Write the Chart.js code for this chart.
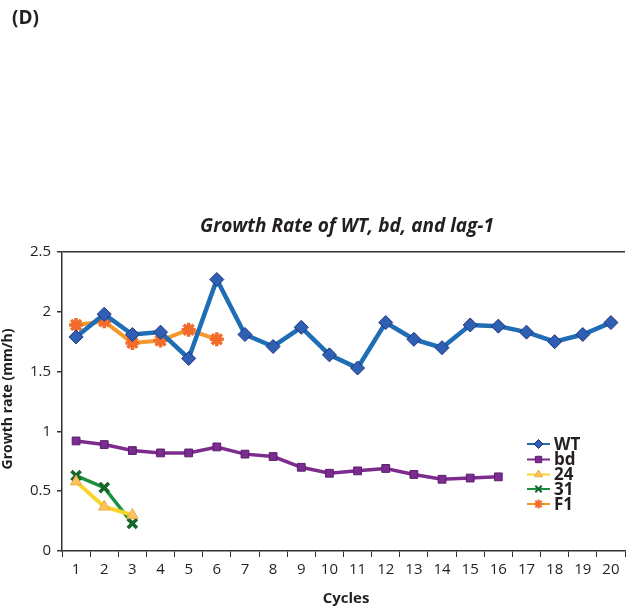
<!DOCTYPE html>
<html>
<head>
<meta charset="utf-8">
<script src="https://cdn.jsdelivr.net/npm/chart.js@4"></script>
<style>
  html, body { margin: 0; padding: 0; background: #fff; }
  #wrap { width: 638px; height: 610px; }
</style>
</head>
<body>
<div id="wrap"><canvas id="growthChart" width="638" height="610"></canvas></div>
<script>
// Données
const cycles = ['1','2','3','4','5','6','7','8','9','10','11','12','13','14','15','16','17','18','19','20'];
const yTicks = [0, 0.5, 1, 1.5, 2, 2.5];
const wt = [1.79, 1.98, 1.81, 1.83, 1.61, 2.27, 1.81, 1.71, 1.87, 1.64, 1.53, 1.91, 1.77, 1.70, 1.89, 1.88, 1.83, 1.75, 1.81, 1.91];
const bd = [0.92, 0.89, 0.84, 0.82, 0.82, 0.87, 0.81, 0.79, 0.70, 0.65, 0.67, 0.69, 0.64, 0.60, 0.61, 0.62];
const s24 = [0.58, 0.37, 0.30];
const s31 = [0.63, 0.53, 0.23];
const f1 = [1.89, 1.92, 1.74, 1.76, 1.85, 1.77];

const FONT = '"Open Sans", "Noto Sans", sans-serif';
const TXT = '#231f20';

function serie(label, data, line, fill, border, style, radius, width, pBorder) {
    return {
        label: label,
        data: data,
        borderColor: line,
        borderWidth: width,
        tension: 0,
        pointStyle: style,
        pointRadius: radius,
        pointHoverRadius: radius,
        pointBackgroundColor: fill,
        pointBorderColor: border,
        pointBorderWidth: pBorder
    };
}

const datasets = [
    serie('WT', wt, '#1f6db5', '#2f5fb3', '#22327e', 'rectRot', 7, 4.5, 1),
    serie('bd', bd, '#7e2b8e', '#7a2c91', '#5b1d6c', 'rect', 5.5, 3.5, 1),
    serie('24', s24, '#f7d52a', '#fbc463', '#f2a93b', 'triangle', 6.5, 4, 1),
    serie('31', s31, '#1b9140', '#1b7a34', '#13652a', 'crossRot', 6.5, 3.5, 3.5),
    serie('F1', f1, '#f7982e', '#f26b2a', '#f26b2a', 'star', 7, 4, 3.5)
];

// Textes et légende dessinés à la main
const annotations = {
    id: 'annotations',
    afterDraw(chart) {
        const ctx = chart.ctx;
        ctx.save();
        ctx.fillStyle = TXT;
        ctx.textBaseline = 'middle';

        ctx.font = 'bold 19px ' + FONT;
        ctx.textAlign = 'left';
        ctx.fillText('(D)', 12, 19);

        ctx.font = 'italic bold 19px ' + FONT;
        ctx.textAlign = 'center';
        ctx.fillText('Growth Rate of WT, bd, and lag-1', 347, 227);

        ctx.font = 'bold 15px ' + FONT;
        ctx.fillText('Cycles', 346, 599);

        ctx.save();
        ctx.translate(8, 399);
        ctx.rotate(-Math.PI / 2);
        ctx.font = 'bold 14px ' + FONT;
        ctx.fillText('Growth rate (mm/h)', 0, 0);
        ctx.restore();

        // légende
        const x0 = 527, x1 = 550, ys = [444, 459.5, 474.5, 489, 504];
        chart.data.datasets.forEach((ds, i) => {
            const y = ys[i];
            ctx.strokeStyle = ds.borderColor;
            ctx.lineWidth = 2;
            ctx.beginPath();
            ctx.moveTo(x0, y);
            ctx.lineTo(x1, y);
            ctx.stroke();
            ctx.fillStyle = ds.pointBackgroundColor;
            ctx.strokeStyle = ds.pointBorderColor;
            ctx.lineWidth = ds.pointBorderWidth > 1 ? 2 : 1;
            Chart.helpers.drawPoint(ctx, { pointStyle: ds.pointStyle, radius: 4.5, borderWidth: ctx.lineWidth }, (x0 + x1) / 2, y);
            ctx.fillStyle = TXT;
            ctx.font = 'bold 17px ' + FONT;
            ctx.textAlign = 'left';
            ctx.fillText(ds.label, 554, y + 1);
        });
        ctx.restore();
    }
};

new Chart(document.getElementById('growthChart'), {
    type: 'line',
    data: { labels: cycles, datasets: datasets },
    options: {
        responsive: false,
        animation: false,
        events: [],
        layout: { padding: { left: 0, top: 252, right: 13, bottom: 0 } },
        plugins: {
            legend: { display: false },
            title: { display: false },
            tooltip: { enabled: false }
        },
        scales: {
            x: {
                offset: true,
                afterFit(scale) { scale.height = 59; },
                grid: {
                    offset: true,
                    color: 'transparent',
                    tickColor: '#333',
                    tickLength: 6,
                    drawOnChartArea: false
                },
                border: { display: true, color: '#333', width: 1.5 },
                ticks: { color: TXT, font: { family: FONT, size: 15 }, padding: 4, maxRotation: 0, autoSkip: false }
            },
            y: {
                min: 0,
                max: 2.5,
                afterFit(scale) { scale.width = 62; },
                afterBuildTicks(scale) { scale.ticks = yTicks.map(v => ({ value: v })); },
                grid: {
                    color: c => (c.tick && c.tick.value === 2.5) ? '#333' : 'transparent',
                    tickColor: '#333',
                    tickLength: 5,
                    lineWidth: 1.5
                },
                border: { display: true, color: '#333', width: 1.5 },
                ticks: {
                    color: TXT,
                    font: { family: FONT, size: 15 },
                    padding: 6,
                    callback: v => String(v)
                }
            }
        }
    },
    plugins: [annotations]
});
</script>
</body>
</html>
